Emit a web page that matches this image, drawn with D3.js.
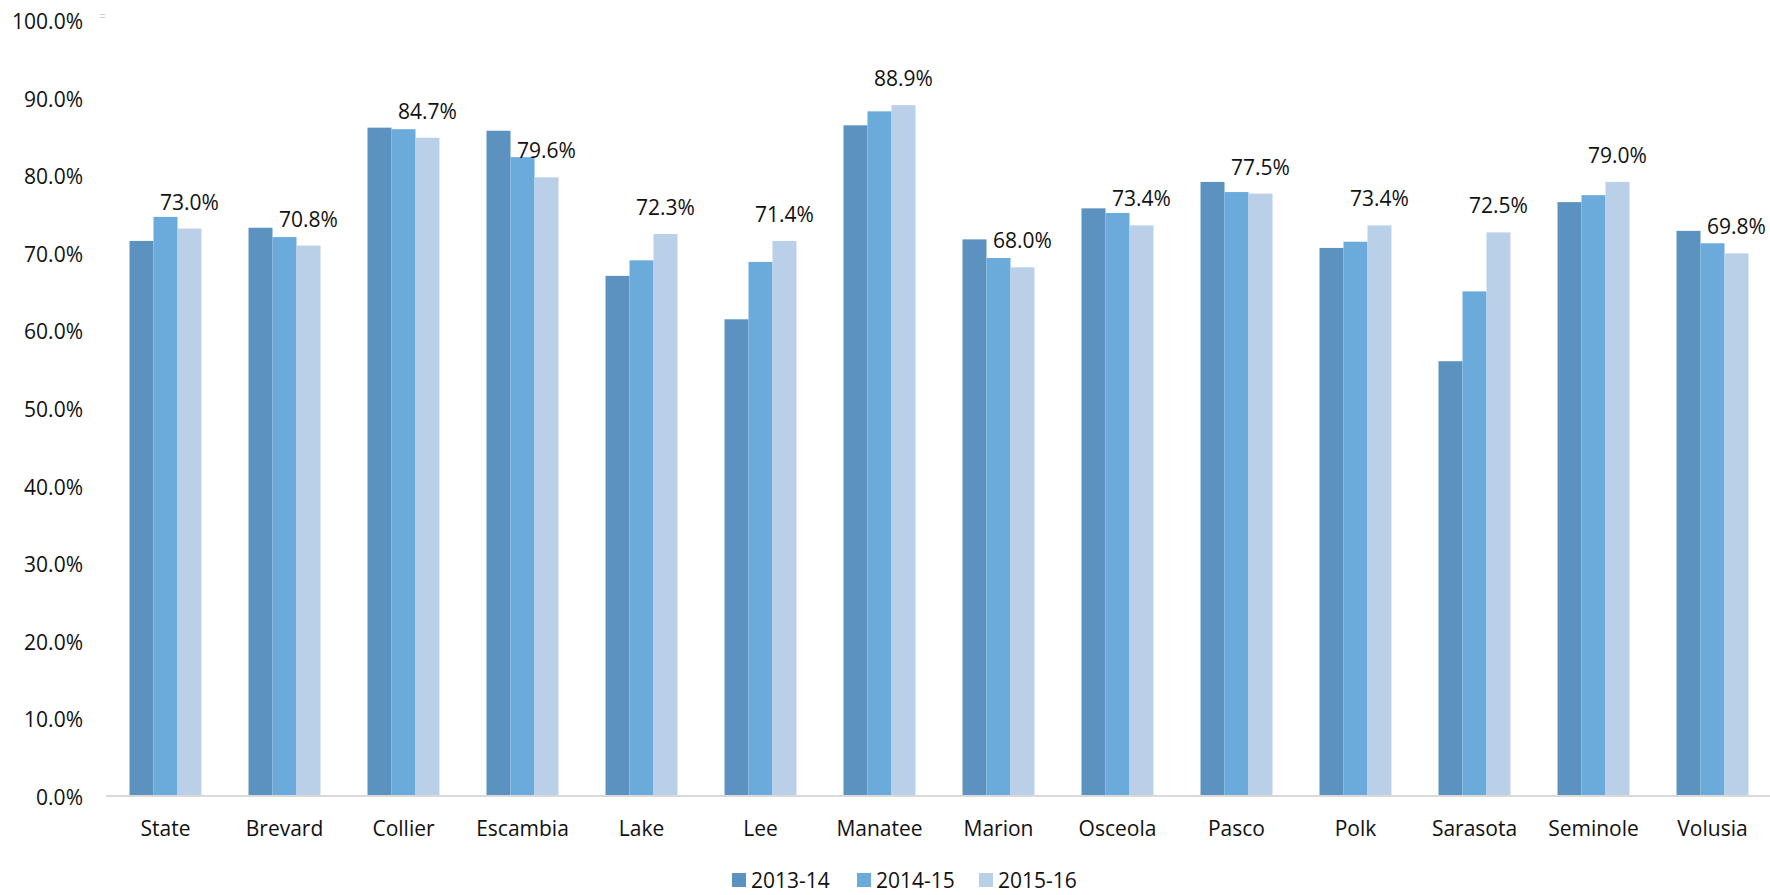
<!DOCTYPE html>
<html>
<head>
<meta charset="utf-8">
<script src="https://cdn.jsdelivr.net/npm/d3@7"></script>
<style>
  html, body { margin: 0; padding: 0; background: #fff; }
  svg text { font-family: "Open Sans", sans-serif; fill: #111; }
</style>
</head>
<body>
<svg id="chart" width="1770" height="895"></svg>
<script>
const categories = ["State","Brevard","Collier","Escambia","Lake","Lee","Manatee","Marion","Osceola","Pasco","Polk","Sarasota","Seminole","Volusia"];
const seriesNames = ["2013-14","2014-15","2015-16"];
const values2013 = [71.4,73.1,86.0,85.6,66.9,61.3,86.3,71.6,75.6,79.0,70.5,55.9,76.4,72.7];
const values2014 = [74.5,71.9,85.8,82.2,68.9,68.7,88.1,69.2,75.0,77.7,71.3,64.9,77.3,71.1];
const values2015 = [73.0,70.8,84.7,79.6,72.3,71.4,88.9,68.0,73.4,77.5,73.4,72.5,79.0,69.8];
const yTicks = [0,10,20,30,40,50,60,70,80,90,100];
const colors = ["#5B92BF","#6AABDC","#BAD0E8"];

const seriesValues = [values2013, values2014, values2015];
const svg = d3.select("#chart");

const x0 = d3.scaleBand().domain(categories).range([106, 1772]).paddingInner(0.395).paddingOuter(0.1975);
const x1 = d3.scaleBand().domain(seriesNames).range([0, x0.bandwidth()]).padding(0);
const y = d3.scaleLinear().domain([0, 100]).range([795, 19]);

// bars
const groups = svg.append("g").selectAll("g").data(categories).join("g")
  .attr("transform", d => `translate(${x0(d)},0)`);
groups.selectAll("rect")
  .data((c, i) => seriesNames.map((s, k) => ({s, k, v: seriesValues[k][i]})))
  .join("rect")
  .attr("x", d => x1(d.s))
  .attr("width", x1.bandwidth())
  .attr("y", d => y(d.v))
  .attr("height", d => y(0) - y(d.v))
  .attr("fill", d => colors[d.k]);

// data labels on last series
svg.append("g").selectAll("text").data(categories).join("text")
  .attr("x", (c) => x0(c) + x1(seriesNames[2]) + x1.bandwidth() / 2)
  .attr("y", (c, i) => y(values2015[i]) - 19)
  .attr("text-anchor", "middle")
  .attr("font-size", 21)
  .text((c, i) => values2015[i].toFixed(1) + "%");

// x axis line
svg.append("line")
  .attr("x1", 106).attr("x2", 1772)
  .attr("y1", y(0) + 1).attr("y2", y(0) + 1)
  .attr("stroke", "#d9d9d9").attr("stroke-width", 2);

// category labels
svg.append("g").selectAll("text").data(categories).join("text")
  .attr("x", c => x0(c) + x0.bandwidth() / 2)
  .attr("y", 836)
  .attr("text-anchor", "middle")
  .attr("font-size", 21)
  .text(c => c);

// y tick labels
svg.append("g").selectAll("text").data(yTicks).join("text")
  .attr("x", 83)
  .attr("y", t => y(t) + 10)
  .attr("text-anchor", "end")
  .attr("font-size", 21)
  .text(t => t.toFixed(1) + "%");

// small artifact mark near top of axis
svg.append("text").attr("x", 99).attr("y", 21).attr("font-size", 12)
  .style("fill", "#d0d0d0").text("=");

// legend
const legendX = [732, 857, 979];
const leg = svg.append("g").selectAll("g").data(seriesNames).join("g")
  .attr("transform", (d, i) => `translate(${legendX[i]},873)`);
leg.append("rect").attr("width", 14).attr("height", 14).attr("fill", (d, i) => colors[i]);
leg.append("text").attr("x", 19).attr("y", 15).attr("font-size", 21).text(d => d);
</script>
</body>
</html>
